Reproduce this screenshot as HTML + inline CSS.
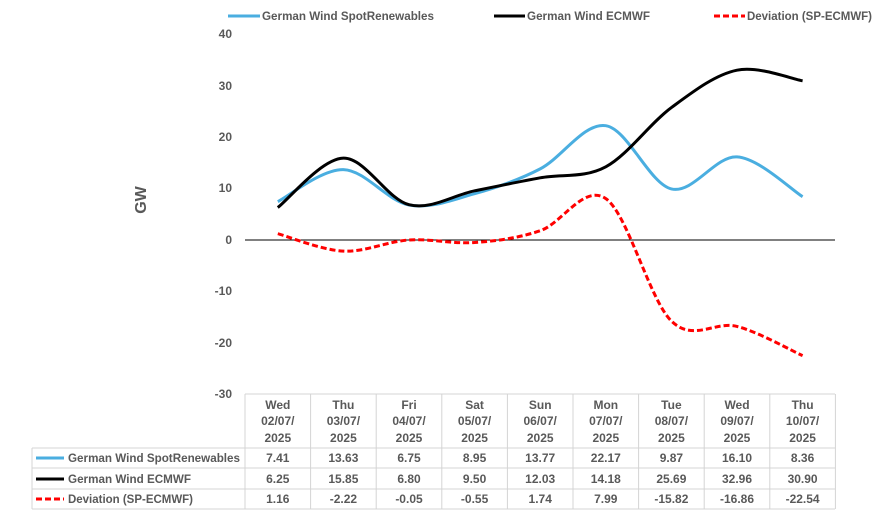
<!DOCTYPE html>
<html><head><meta charset="utf-8"><style>
body{margin:0;background:#fff;}
svg{display:block;font-family:"Liberation Sans",sans-serif;font-weight:bold;fill:#595959;}
</style></head><body>
<svg id="s" width="892" height="524" xmlns="http://www.w3.org/2000/svg">
<rect width="892" height="524" fill="#fff"/>
<line x1="228" y1="16" x2="260" y2="16" stroke="#4aaee0" stroke-width="3"/>
<text x="262" y="20" font-size="12" textLength="172" lengthAdjust="spacingAndGlyphs">German Wind SpotRenewables</text>
<line x1="494" y1="16" x2="525" y2="16" stroke="#000" stroke-width="3"/>
<text x="527" y="20" font-size="12" textLength="123" lengthAdjust="spacingAndGlyphs">German Wind ECMWF</text>
<line x1="714" y1="16" x2="745" y2="16" stroke="#f00" stroke-width="3" stroke-dasharray="6,3"/>
<text x="747" y="20" font-size="12" textLength="125" lengthAdjust="spacingAndGlyphs">Deviation (SP-ECMWF)</text>
<g font-size="12" text-anchor="end">
<text x="232" y="38">40</text><text x="232" y="90">30</text><text x="232" y="141">20</text>
<text x="232" y="192">10</text><text x="232" y="244">0</text><text x="232" y="295">-10</text>
<text x="232" y="347">-20</text><text x="232" y="398">-30</text>
</g>
<text transform="translate(146,200) rotate(-90)" font-size="16" text-anchor="middle">GW</text>
<line x1="245" y1="240" x2="835" y2="240" stroke="#000" stroke-width="1"/>
<g id="series"></g>
<g stroke="#d4d4d4" stroke-width="1" fill="none" id="grid"></g>
<g font-size="12" text-anchor="middle" id="tt"></g>
<line x1="36" y1="458" x2="64" y2="458" stroke="#4aaee0" stroke-width="3"/>
<line x1="36" y1="479" x2="64" y2="479" stroke="#000" stroke-width="3"/>
<line x1="36" y1="499" x2="64" y2="499" stroke="#f00" stroke-width="3" stroke-dasharray="6,3"/>
<g font-size="12">
<text x="68" y="462" textLength="172" lengthAdjust="spacingAndGlyphs">German Wind SpotRenewables</text>
<text x="68" y="483" textLength="123" lengthAdjust="spacingAndGlyphs">German Wind ECMWF</text>
<text x="68" y="503" textLength="125" lengthAdjust="spacingAndGlyphs">Deviation (SP-ECMWF)</text>
</g>
</svg>
<script>
var NS="http://www.w3.org/2000/svg";
function el(t,a,p){var e=document.createElementNS(NS,t);for(var k in a)e.setAttribute(k,a[k]);p.appendChild(e);return e;}
var cw=65.6,x0=245,xs=[];for(var i=0;i<9;i++)xs.push(x0+cw*(i+0.5));
function Y(v){return 239.7-5.143*v;}
var blue=[7.41,13.63,6.75,8.95,13.77,22.17,9.87,16.10,8.36],
black=[6.25,15.85,6.80,9.50,12.03,14.18,25.69,32.96,30.90],
red=[1.16,-2.22,-0.05,-0.55,1.74,7.99,-15.82,-16.86,-22.54];
function path(d){var p=d.map(function(v,i){return [xs[i],Y(v)];});var s="M"+p[0][0]+","+p[0][1];
for(var i=0;i<p.length-1;i++){var a=p[Math.max(i-1,0)],b=p[i],c=p[i+1],e=p[Math.min(i+2,p.length-1)],t=6;
s+=" C"+(b[0]+(c[0]-a[0])/t)+","+(b[1]+(c[1]-a[1])/t)+" "+(c[0]-(e[0]-b[0])/t)+","+(c[1]-(e[1]-b[1])/t)+" "+c[0]+","+c[1];}return s;}
var g=document.getElementById("series");
el("path",{d:path(blue),stroke:"#4aaee0","stroke-width":3,fill:"none"},g);
el("path",{d:path(black),stroke:"#000","stroke-width":3,fill:"none"},g);
el("path",{d:path(red),stroke:"#f00","stroke-width":3,fill:"none","stroke-dasharray":"6,3"},g);
var gr=document.getElementById("grid");
el("line",{x1:245,y1:394,x2:835,y2:394},gr);
for(var i=0;i<=9;i++)el("line",{x1:x0+cw*i,y1:394,x2:x0+cw*i,y2:509},gr);
el("line",{x1:32,y1:448,x2:32,y2:509},gr);
[448,468,489,509].forEach(function(y){el("line",{x1:32,y1:y,x2:835,y2:y},gr);});
var tt=document.getElementById("tt");
var days=["Wed","Thu","Fri","Sat","Sun","Mon","Tue","Wed","Thu"];
var ds=["02","03","04","05","06","07","08","09","10"];
function f(v){return v.toFixed(2);}
for(var i=0;i<9;i++){var x=xs[i];
el("text",{x:x,y:409},tt).textContent=days[i];
el("text",{x:x,y:425},tt).textContent=ds[i]+"/07/";
el("text",{x:x,y:442},tt).textContent="2025";
el("text",{x:x,y:462},tt).textContent=f(blue[i]);
el("text",{x:x,y:483},tt).textContent=f(black[i]);
el("text",{x:x,y:503},tt).textContent=f(red[i]);}
</script>
</body></html>
